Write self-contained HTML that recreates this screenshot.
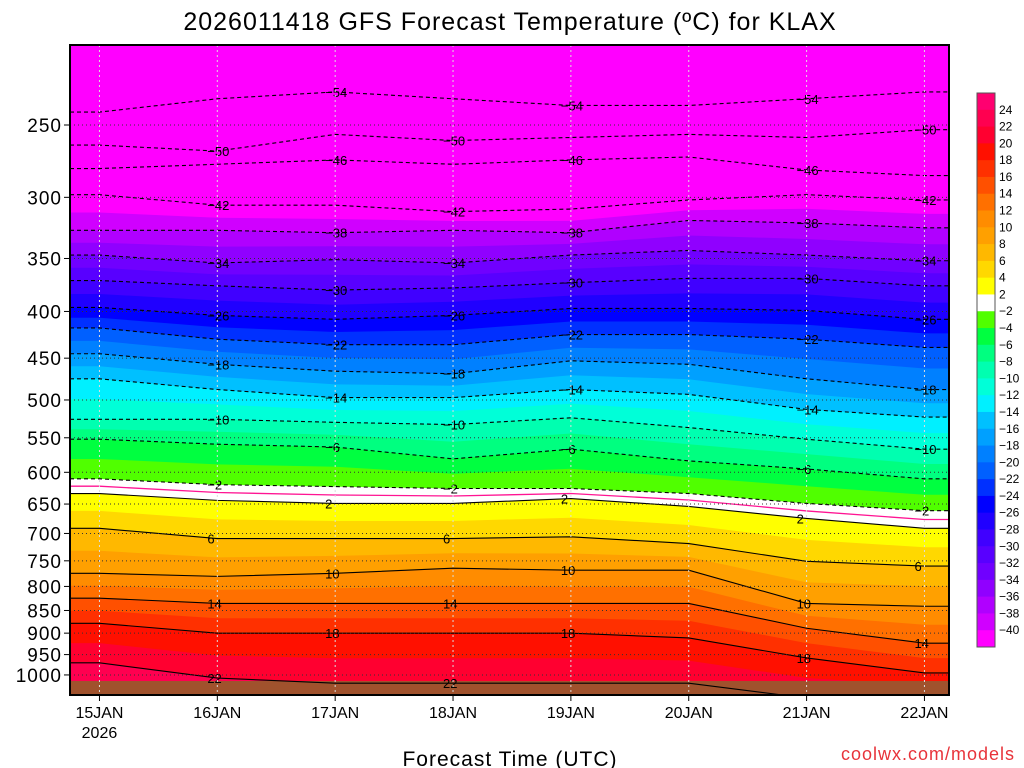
<!DOCTYPE html>
<html><head><meta charset="utf-8"><style>
body{margin:0;background:#fff;width:1024px;height:768px;overflow:hidden}
svg{display:block;font-family:"Liberation Sans",sans-serif}
</style></head><body>
<svg id="chart" width="1024" height="768" xmlns="http://www.w3.org/2000/svg">
<text x="510" y="30" font-size="25" text-anchor="middle" letter-spacing="1">2026011418 GFS Forecast Temperature (ºC) for KLAX</text>
<g id="plot"></g>
<g id="axes"></g>
<g id="cbar"></g>
<text x="510" y="766" font-size="21" text-anchor="middle" letter-spacing="1">Forecast Time (UTC)</text>
<text x="1015" y="760" font-size="18" text-anchor="end" fill="#e8333a" letter-spacing="1">coolwx.com/models</text>
</svg>
<script>
// data: forecast hours of sample columns, isotherm levels, pressure (hPa) of each isotherm
const hours = [6, 30, 54, 78, 102, 126, 150, 174];
const dayLabels = ["15JAN", "16JAN", "17JAN", "18JAN", "19JAN", "20JAN", "21JAN", "22JAN"];
const dayHours = [6, 30, 54, 78, 102, 126, 150, 174];
const pressureTicks = [250, 300, 350, 400, 450, 500, 550, 600, 650, 700, 750, 800, 850, 900, 950, 1000];
const isoLevels = [-54, -50, -46, -42, -38, -34, -30, -26, -22, -18, -14, -10, -6, -2, 2, 6, 10, 14, 18, 22];
const iso_m54 = [242, 234, 230, 234, 238, 238, 234, 230];
const iso_m50 = [263, 267, 256, 260, 258, 256, 258, 253];
const iso_m46 = [279, 276, 273, 276, 273, 271, 280, 284];
const iso_m42 = [298, 306, 306, 311, 309, 302, 298, 302];
const iso_m38 = [326, 326, 328, 326, 328, 318, 320, 324];
const iso_m34 = [347, 354, 351, 354, 347, 343, 347, 352];
const iso_m30 = [370, 375, 379, 377, 372, 368, 368, 375];
const iso_m26 = [396, 404, 408, 404, 397, 397, 399, 408];
const iso_m22 = [417, 429, 435, 435, 424, 424, 429, 438];
const iso_m18 = [445, 457, 465, 468, 453, 457, 474, 487];
const iso_m14 = [474, 487, 497, 497, 487, 493, 512, 522];
const iso_m10 = [525, 525, 529, 532, 523, 536, 552, 566];
const iso_m6 = [552, 559, 563, 580, 566, 583, 595, 610];
const iso_m2 = [610, 619, 622, 625, 625, 633, 649, 661];
const iso_p2 = [633, 644, 649, 649, 641, 654, 674, 691];
const iso_p6 = [691, 709, 709, 709, 706, 718, 751, 760];
const iso_p10 = [774, 780, 774, 764, 768, 768, 835, 841];
const iso_p14 = [824, 835, 835, 835, 835, 835, 889, 923];
const iso_p18 = [878, 900, 900, 900, 900, 911, 958, 995];
const iso_p22 = [970, 1008, 1021, 1021, 1021, 1021, 1060, 1060];
const isoPressures = [iso_m54, iso_m50, iso_m46, iso_m42, iso_m38, iso_m34, iso_m30, iso_m26, iso_m22, iso_m18, iso_m14, iso_m10, iso_m6, iso_m2, iso_p2, iso_p6, iso_p10, iso_p14, iso_p18, iso_p22];
const cbarLevels = [24, 22, 20, 18, 16, 14, 12, 10, 8, 6, 4, 2, -2, -4, -6, -8, -10, -12, -14, -16, -18, -20, -22, -24, -26, -28, -30, -32, -34, -36, -38, -40];
const bandColors = {"-40":"#d000ff","-38":"#b000ff","-36":"#9000ff","-34":"#7000ff","-32":"#5800ff","-30":"#4000ff","-28":"#2000ff","-26":"#0000ff","-24":"#0030ff","-22":"#0060ff","-20":"#0080ff","-18":"#00a0ff","-16":"#00c0ff","-14":"#00f0ff","-12":"#00ffd8","-10":"#00ffb0","-8":"#00ff80","-6":"#00ff40","-4":"#50ff00","-2":"#ffffff","2":"#ffff00","4":"#ffd800","6":"#ffb800","8":"#ffa000","10":"#ff8c00","12":"#ff7000","14":"#ff5000","16":"#ff3000","18":"#ff1000","20":"#ff0030","22":"#ff0050","24":"#ff0070"};

const NS = "http://www.w3.org/2000/svg";
const X0 = 70, X1 = 949, Y0 = 45, Y1 = 695;
const H0 = 0, H1 = 179;
const xS = h => X0 + (h - H0) * (X1 - X0) / (H1 - H0);
const yS = p => 125 + 396.7 * Math.log(p / 250);
function mk(tag, attrs, parent) { const e = document.createElementNS(NS, tag); for (const k in attrs) e.setAttribute(k, attrs[k]); parent.appendChild(e); return e; }
const plot = document.getElementById("plot"), axes = document.getElementById("axes"), cbar = document.getElementById("cbar");

function curveY(level) {
  const i = isoLevels.indexOf(level);
  if (i >= 0) return isoPressures[i].map(yS);
  for (let k = 0; k < isoLevels.length - 1; k++) {
    if (isoLevels[k] < level && isoLevels[k + 1] > level) {
      const f = (level - isoLevels[k]) / (isoLevels[k + 1] - isoLevels[k]);
      return isoPressures[k].map((p, j) => yS(p) * (1 - f) + yS(isoPressures[k + 1][j]) * f);
    }
  }
  const last = isoPressures[isoPressures.length - 1].map(yS);
  return last.map(y => y + 30);
}
function ptsFor(ys) {
  const pts = [[X0, ys[0]]];
  hours.forEach((h, j) => pts.push([xS(h), ys[j]]));
  pts.push([X1, ys[ys.length - 1]]);
  return pts;
}
mk("defs", {}, plot).innerHTML = '<clipPath id="clip"><rect x="70" y="45" width="879" height="650"/></clipPath>';
const g = mk("g", {"clip-path": "url(#clip)"}, plot);
const bg = mk("rect", {x: X0, y: Y0, width: X1 - X0, height: Y1 - Y0, fill: "#ff00ff"}, g);


const fillBounds = [];
for (let L = -40; L <= 22; L += 2) if (L !== 0) fillBounds.push(L);
fillBounds.forEach(L => {
  const pts = ptsFor(curveY(L));
  const d = "M" + pts.map(p => p[0].toFixed(1) + "," + p[1].toFixed(1)).join("L") + `L${X1},${Y1 + 5}L${X0},${Y1 + 5}Z`;
  const band = mk("path", {d: d, fill: bandColors[String(L)]}, g);
  
  
});
const ground = mk("rect", {x: X0, y: 681, width: X1 - X0, height: 14, fill: "#a0522d"}, g);


{
  const pts = ptsFor(curveY(0));
  const fl = mk("polyline", {points: pts.map(p => p.join(",")).join(" "), fill: "none", stroke: "#ff1493", "stroke-width": 1.3}, g);
  
  
}
isoLevels.forEach((L, i) => {
  const ys = isoPressures[i].map(yS);
  const pts = ptsFor(ys);
  const line = mk("polyline", {points: pts.map(p => p.join(",")).join(" "), fill: "none", stroke: "#000", "stroke-width": 1.1, "stroke-dasharray": L < 0 ? "4,3" : "none"}, g);
  
  
  [1, 3, 6].forEach((j, k) => {
    const jj = (j + i) % 2 === 0 ? j : Math.min(j + 1, hours.length - 1);
    const t = mk("text", {x: xS(hours[jj]) - 10, y: ys[jj] + 5, "font-size": 13}, g);
    t.textContent = L < 0 ? "\u2212" + (-L) : String(L);
    
    
  });
});
pressureTicks.forEach(p => {
  const y = yS(p);
  const gl = mk("line", {x1: X0, x2: X1, y1: y, y2: y, stroke: "#333", "stroke-width": 1, "stroke-dasharray": "1,3"}, plot);
  
  
  const tk = mk("line", {x1: X0 - 6, x2: X0, y1: y, y2: y, stroke: "#000"}, axes);
  
  
  const tl = mk("text", {x: 62, y: y + 7, "font-size": 19, "text-anchor": "end", "letter-spacing": 1}, axes);
  tl.textContent = p;
  
  
});
dayHours.forEach((h, i) => {
  const x = xS(h);
  const gl = mk("line", {x1: x, x2: x, y1: Y0, y2: Y1, stroke: "#ddd", "stroke-width": 1, "stroke-dasharray": "2,3"}, plot);
  
  
  const tk = mk("line", {x1: x, x2: x, y1: Y1, y2: Y1 + 6, stroke: "#000"}, axes);
  
  
  const tl = mk("text", {x: x, y: 718, "font-size": 16, "text-anchor": "middle"}, axes);
  tl.textContent = dayLabels[i];
  
  
});
const yr = mk("text", {x: xS(dayHours[0]), y: 738, "font-size": 16, "text-anchor": "middle"}, axes);
yr.textContent = "2026";


const frame = mk("rect", {x: X0, y: Y0, width: X1 - X0, height: Y1 - Y0, fill: "none", stroke: "#000", "stroke-width": 2}, axes);


const CB0 = 93, CB1 = 647, n = cbarLevels.length + 1, bh = (CB1 - CB0) / n;
for (let k = 0; k < n; k++) {
  let col;
  if (k === 0) col = bandColors["24"];
  else if (k === n - 1) col = "#ff00ff";
  else col = bandColors[String(cbarLevels[k])];
  const r = mk("rect", {x: 977, y: CB0 + k * bh, width: 18, height: bh + 0.5, fill: col}, cbar);
  
  
}
cbarLevels.forEach((L, k) => {
  const y = CB0 + (k + 1) * bh;
  const t = mk("text", {x: 999, y: y + 4, "font-size": 12}, cbar);
  t.textContent = L < 0 ? "\u2212" + (-L) : String(L);
  
  
});
const cf = mk("rect", {x: 977, y: CB0, width: 18, height: CB1 - CB0, fill: "none", stroke: "#555"}, cbar);


</script>
</body></html>
